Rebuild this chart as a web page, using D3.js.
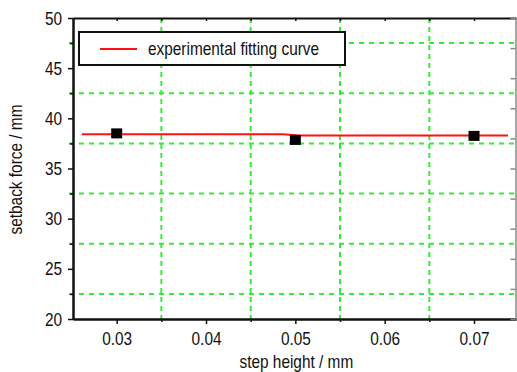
<!DOCTYPE html>
<html>
<head>
<meta charset="utf-8">
<script src="https://cdn.jsdelivr.net/npm/d3@7"></script>
<style>
  body { margin: 0; background: #fff; }
  text { font-family: "Liberation Sans", Arial, sans-serif; }
</style>
</head>
<body>
<div id="chart"></div>
<script>
// measured points
var stepHeights = [0.03, 0.05, 0.07]
var setbackForces = [38.5, 37.85, 38.25]

// fitting curve
var fitX = [0.0261, 0.0486, 0.0505, 0.0738]
var fitY = [38.42, 38.42, 38.3, 38.3]

var xTicks = [0.03, 0.04, 0.05, 0.06, 0.07]
var xGrid = [0.035, 0.045, 0.055, 0.065]
var yTicks = [20, 25, 30, 35, 40, 45, 50]
var yGrid = [22.5, 27.5, 32.5, 37.5, 42.5, 47.5]
var legendLabel = "experimental fitting curve"

var margin = { top: 18, right: 1, bottom: 53, left: 73 },
  width = 517 - margin.left - margin.right,
  height = 372 - margin.top - margin.bottom

var svg = d3.select("#chart")
  .append("svg")
  .attr("width", 517)
  .attr("height", 372)
  .append("g")
  .attr("transform", "translate(" + margin.left + "," + margin.top + ")")

var x = d3.scaleLinear().domain([0.02511, 0.0747]).range([0, width])
var y = d3.scaleLinear().domain([20, 50]).range([height, 0])

// green dashed grid
svg.selectAll(".hgrid")
  .data(yGrid)
  .enter().append("line")
  .attr("x1", -4).attr("x2", width)
  .attr("y1", function (d) { return y(d) }).attr("y2", function (d) { return y(d) })
  .attr("stroke", "#2ef02e").attr("stroke-width", 2)
  .attr("stroke-dasharray", "5,5")

svg.selectAll(".vgrid")
  .data(xGrid)
  .enter().append("line")
  .attr("y1", 0).attr("y2", height + 3)
  .attr("x1", function (d) { return x(d) }).attr("x2", function (d) { return x(d) })
  .attr("stroke", "#2ef02e").attr("stroke-width", 2)
  .attr("stroke-dasharray", "5,4")

// axes
svg.append("g")
  .attr("transform", "translate(0," + height + ")")
  .call(d3.axisBottom(x).tickValues(xTicks).tickFormat(d3.format(".2f")).tickSize(5).tickSizeOuter(0).tickPadding(8))
svg.append("g")
  .attr("transform", "translate(0," + height + ")")
  .call(d3.axisBottom(x).tickValues(xGrid).tickFormat("").tickSize(3).tickSizeOuter(0))

svg.append("g")
  .call(d3.axisLeft(y).tickValues(yTicks).tickSize(5).tickSizeOuter(0).tickPadding(6))
svg.append("g")
  .call(d3.axisLeft(y).tickValues(yGrid).tickFormat("").tickSize(3).tickSizeOuter(0))

svg.append("g")
  .call(d3.axisTop(x).tickValues(xTicks.concat(xGrid)).tickFormat("").tickSize(-3).tickSizeOuter(0))

var yRight = d3.scaleLinear().domain([0, 10]).range([height, 0])
svg.append("g")
  .attr("class", "right")
  .attr("transform", "translate(" + (width - 0.5) + ",0)")
  .call(d3.axisRight(yRight).ticks(10).tickFormat("").tickSize(-5).tickSizeOuter(0))

svg.selectAll(".domain").attr("stroke", "#111").attr("stroke-width", 2)
svg.selectAll(".tick line").attr("stroke", "#111").attr("stroke-width", 1.5)
svg.selectAll(".right .domain, .right .tick line").attr("stroke", "#888").attr("stroke-width", 1.5)
svg.selectAll(".tick text").attr("font-size", 19).attr("fill", "#111")
  .attr("font-family", "'Liberation Sans', Arial, sans-serif")

// axis titles
svg.append("text")
  .attr("x", x(0.05) + 1).attr("y", height + 49)
  .attr("text-anchor", "middle")
  .attr("font-size", 19).attr("fill", "#111")
  .text("step height / mm")

svg.append("text")
  .attr("transform", "translate(" + (-51) + "," + (y(35) + 1) + ") rotate(-90)")
  .attr("text-anchor", "middle")
  .attr("font-size", 19).attr("fill", "#111")
  .text("setback force / mm")

// fitting curve
var line = d3.line()
  .x(function (d, i) { return x(fitX[i]) })
  .y(function (d) { return y(d) })

svg.append("path")
  .datum(fitY)
  .attr("d", line)
  .attr("fill", "none")
  .attr("stroke", "#ff1111")
  .attr("stroke-width", 2)

// measured points
svg.selectAll(".pt")
  .data(setbackForces)
  .enter().append("rect")
  .attr("x", function (d, i) { return x(stepHeights[i]) - 5.5 })
  .attr("y", function (d) { return y(d) - 5 })
  .attr("width", 11).attr("height", 10)
  .attr("fill", "#000")

// legend
var legend = svg.append("g").attr("transform", "translate(6,14)")
legend.append("rect")
  .attr("width", 266).attr("height", 33)
  .attr("fill", "#fff").attr("stroke", "#111").attr("stroke-width", 2)
legend.append("line")
  .attr("x1", 21).attr("x2", 58).attr("y1", 17).attr("y2", 17)
  .attr("stroke", "#ff1111").attr("stroke-width", 2)
legend.append("text")
  .attr("x", 69).attr("y", 23)
  .attr("font-size", 19).attr("fill", "#111")
  .text(legendLabel)

// the original font is a narrow sans, squeeze the regular one
svg.selectAll("text").each(function () {
  var len = this.getComputedTextLength()
  d3.select(this).attr("textLength", len * 0.81).attr("lengthAdjust", "spacingAndGlyphs")
})
</script>
</body>
</html>
